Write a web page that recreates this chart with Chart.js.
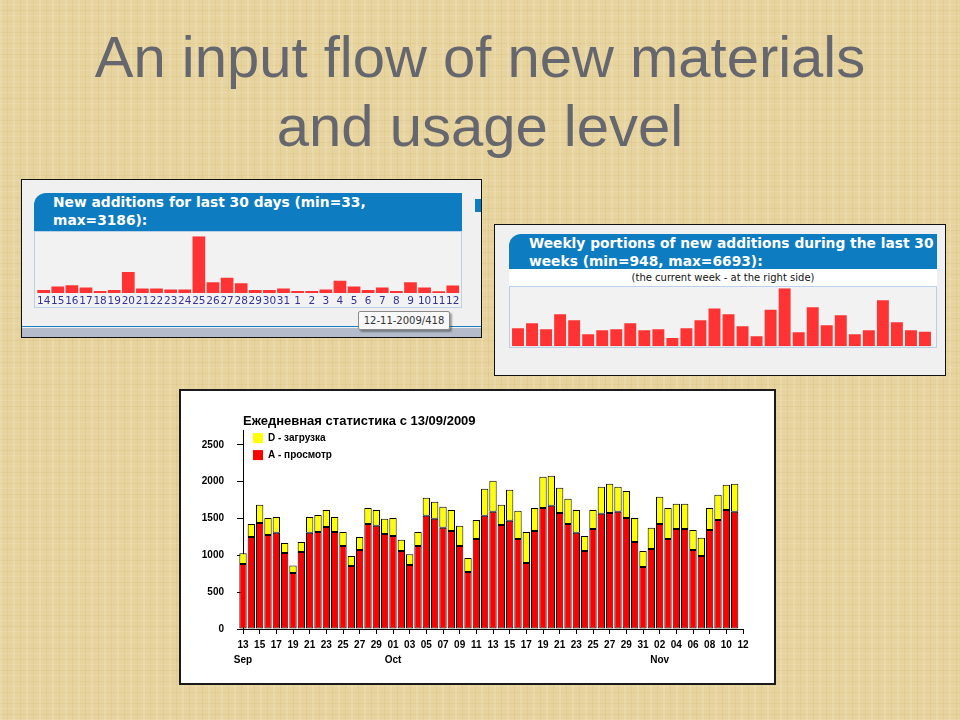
<!DOCTYPE html>
<html>
<head>
<meta charset="utf-8">
<script src="https://cdn.jsdelivr.net/npm/chart.js@4.4.1/dist/chart.umd.min.js"></script>
<style>
  html, body { margin: 0; padding: 0; }
  #slide {
    position: relative; width: 960px; height: 720px; overflow: hidden;
    background-color: #e7d39d;
    background-image:
      repeating-linear-gradient(90deg, rgba(255,255,255,0.14) 0 2px, transparent 2px 7px, rgba(150,110,40,0.07) 7px 8px, transparent 8px 13px),
      repeating-linear-gradient(0deg, rgba(255,255,255,0.10) 0 1px, transparent 1px 5px, rgba(150,110,40,0.06) 5px 6px, transparent 6px 11px);
    font-family: "Liberation Sans", Arial, sans-serif;
  }
  #title {
    position: absolute; left: 0; top: 22px; width: 960px; text-align: center;
    font-size: 58px; line-height: 69px; color: #66666e;
  }
  .panel { position: absolute; box-sizing: border-box; border: 1px solid #111; background: #f0f0f0; }
  .head {
    position: absolute; box-sizing: border-box; background: #0e7cc0; color: #fff;
    font: bold 13.8px "DejaVu Sans", Verdana, sans-serif; line-height: 17.5px;
    border-top-left-radius: 12px;
  }
  .plot { position: absolute; box-sizing: border-box; border: 1px solid #b9d0e8; background: #f2f2f2; }
  .plot canvas { position: absolute; left: 0; top: 0; }
  #tip {
    position: absolute; left: 358px; top: 311px; width: 92px; height: 19px; box-sizing: border-box;
    background: #f8f8f8; border: 1px solid #8a8a8a; border-radius: 2px;
    box-shadow: 2px 2px 2px rgba(0,0,0,0.35);
    font: 10px "DejaVu Sans", sans-serif; color: #333; text-align: center; line-height: 17px;
  }
</style>
</head>
<body>
<div id="slide">
  <div id="title">An input flow of new materials<br>and usage level</div>

  <div class="panel" style="left:21px; top:179px; width:461px; height:159px;">
    <div style="position:absolute; left:453px; top:19px; width:6px; height:13px; background:#0e7cc0;"></div>
    <div style="position:absolute; left:0; top:146px; width:459px; height:1px; background:#1a7fc4;"></div>
    <div style="position:absolute; left:0; top:148px; width:459px; height:9px; background:#b4bccb;"></div>
  </div>
  <div class="head" style="left:34px; top:193px; width:428px; height:38px; padding:1px 0 0 19px;">
    New additions for last 30 days (min=33,<br>max=3186):
  </div>
  <div class="plot" style="left:34px; top:231px; width:428px; height:77px;">
    <canvas id="c1" width="426" height="75"></canvas>
  </div>
  <div id="tip">12-11-2009/418</div>

  <div class="panel" style="left:494px; top:224px; width:452px; height:152px;"></div>
  <div class="head" style="left:509px; top:234px; width:428px; height:35px; padding:1px 0 0 20px;">
    Weekly portions of new additions during the last 30<br>weeks (min=948, max=6693):
  </div>
  <div style="position:absolute; left:509px; top:269px; width:428px; height:17px; background:#fff;
              font:10px 'DejaVu Sans', sans-serif; text-align:center; line-height:17px; color:#111;">
    (the current week - at the right side)
  </div>
  <div class="plot" style="left:509px; top:286px; width:428px; height:62px;">
    <canvas id="c2" width="426" height="60"></canvas>
  </div>

  <div style="position:absolute; left:179px; top:389px; width:597px; height:296px; box-sizing:border-box;
              border:2px solid #1a1a1a; background:#fff;">
    <canvas id="c3" width="593" height="292"></canvas>
  </div>
</div>

<script>
// --- new additions, last 30 days
const days30 = ['14','15','16','17','18','19','20','21','22','23','24','25','26','27','28','29','30','31',
                '1','2','3','4','5','6','7','8','9','10','11','12'];
const additions = [172, 363, 439, 305, 115, 172, 1183, 248, 248, 191, 191, 3186, 611, 859, 553,
                   172, 172, 248, 115, 115, 191, 687, 363, 172, 305, 115, 611, 305, 95, 418];

// --- weekly portions, last 30 weeks
const weeks = Array.from({length: 30}, (_, i) => 'w' + (i + 1));
const weekly = [2080, 2650, 1960, 3690, 3000, 1390, 1850, 1960, 2650, 1850, 1960, 948, 2080, 3000, 4350,
                3690, 2310, 1150, 4230, 6693, 1620, 4500, 2420, 3580, 1390, 1850, 5310, 2770, 1850, 1690];

// --- daily statistics since 13/09/2009 (last label 12 Nov has no bar)
const days = ['13','14','15','16','17','18','19','20','21','22','23','24','25','26','27','28','29','30',
              '01','02','03','04','05','06','07','08','09','10','11','12','13','14','15','16','17','18',
              '19','20','21','22','23','24','25','26','27','28','29','30','31',
              '01','02','03','04','05','06','07','08','09','10','11','12'];
const monthNames = ['Sep', 'Oct', 'Nov'];
const monthStart = [0, 18, 50];
const yTicks = [0, 500, 1000, 1500, 2000, 2500];
const views = [883, 1250, 1440, 1277, 1305, 1033, 761, 1046, 1305, 1318, 1386, 1318, 1128, 856, 1074, 1427, 1400, 1291,
               1264, 1060, 870, 1128, 1536, 1495, 1373, 1332, 1128, 775, 1223, 1536, 1590, 1413, 1468, 1223, 897, 1332,
               1644, 1672, 1576, 1427, 1305, 1060, 1359, 1563, 1576, 1590, 1508, 1182, 843,
               1087, 1427, 1223, 1359, 1359, 1074, 992, 1345, 1481, 1617, 1590, null];
const downloads = [145, 177, 245, 231, 217, 136, 100, 136, 217, 231, 231, 204, 190, 136, 176, 217, 217, 204,
                   244, 150, 145, 190, 244, 231, 285, 285, 272, 190, 258, 367, 421, 272, 421, 381, 421, 312,
                   422, 407, 340, 340, 312, 204, 258, 367, 395, 340, 367, 326, 217,
                   286, 367, 421, 340, 340, 271, 245, 299, 340, 340, 381, null];

const red = '#ff3333';

new Chart(document.getElementById('c1'), {
    type: 'bar',
    data: {
        labels: days30,
        datasets: [{ data: additions, backgroundColor: red, barPercentage: 0.9, categoryPercentage: 1 }]
    },
    options: {
        responsive: false, animation: false,
        layout: { padding: { left: 1.6, right: 1, top: 4.3, bottom: 0 } },
        plugins: { legend: { display: false }, tooltip: { enabled: false } },
        scales: {
            x: {
                grid: { display: false, drawTicks: false }, border: { display: false },
                ticks: { autoSkip: false, maxRotation: 0, padding: 1.5, color: '#333399',
                         font: { family: 'DejaVu Sans', size: 10.5 } },
                afterFit: s => { s.height = 14; }
            },
            y: { display: false, min: 0, max: 3186 }
        }
    }
});

new Chart(document.getElementById('c2'), {
    type: 'bar',
    data: {
        labels: weeks,
        datasets: [{ data: weekly, backgroundColor: red, barPercentage: 0.85, categoryPercentage: 1 }]
    },
    options: {
        responsive: false, animation: false,
        layout: { padding: { left: 1, right: 4, top: 1.3, bottom: 0.7 } },
        plugins: { legend: { display: false }, tooltip: { enabled: false } },
        scales: {
            x: { display: false },
            y: { display: false, min: 0, max: 6693 }
        }
    }
});

// legend sits inside the plot, top-left corner
const legendInside = {
    id: 'legendInside',
    afterLayout(chart) {
        const lg = chart.legend, ca = chart.chartArea;
        const h = lg.bottom - lg.top, w = lg.right - lg.left;
        lg.top = ca.top - 4; lg.bottom = lg.top + h;
        lg.left = ca.left + 3; lg.right = lg.left + w;
    }
};

new Chart(document.getElementById('c3'), {
    type: 'bar',
    data: {
        labels: days,
        datasets: [
            { label: 'A - просмотр', data: views, backgroundColor: '#ff0000',
              borderColor: '#000', borderWidth: 1, borderSkipped: false, clip: false,
              barPercentage: 0.88, categoryPercentage: 1 },
            { label: 'D - загрузка', data: downloads, backgroundColor: '#ffff00',
              borderColor: '#000', borderWidth: 1, borderSkipped: false, clip: false,
              barPercentage: 0.88, categoryPercentage: 1 }
        ]
    },
    plugins: [legendInside],
    options: {
        responsive: false, animation: false,
        layout: { padding: { left: 0, right: 31, top: 23, bottom: 14 } },
        plugins: {
            tooltip: { enabled: false },
            title: {
                display: true, text: 'Ежедневная статистика с 13/09/2009', align: 'start', fullSize: false,
                color: '#000', font: { family: 'Liberation Sans', size: 13, weight: 'bold' },
                padding: { top: 0, bottom: 0.5 }
            },
            legend: {
                position: 'chartArea', align: 'start', reverse: true,
                labels: {
                    boxWidth: 10, boxHeight: 10, padding: 7, color: '#000',
                    font: { family: 'Liberation Sans', size: 10, weight: 'bold' },
                    generateLabels(chart) {
                        const items = Chart.defaults.plugins.legend.labels.generateLabels(chart);
                        items.forEach(it => { it.lineWidth = 0; it.strokeStyle = 'rgba(0,0,0,0)'; });
                        return items;
                    }
                }
            }
        },
        scales: {
            x: {
                stacked: true, offset: false,
                grid: { offset: false, drawOnChartArea: false, tickLength: 5, color: '#000' },
                border: { color: '#000' },
                ticks: {
                    autoSkip: false, maxRotation: 0, minRotation: 0, padding: 3.5, color: '#000',
                    font: { family: 'Liberation Sans', size: 10, weight: 'bold', lineHeight: 1.5 },
                    callback: (value, index) => {
                        if (index % 2) return null;
                        const m = monthStart.indexOf(index);
                        return m >= 0 ? [days[index], monthNames[m]] : days[index];
                    }
                },
                afterFit: s => { s.height = 40; }
            },
            y: {
                stacked: true, min: 0, max: 2700,
                grid: { drawOnChartArea: false, tickLength: 6, color: '#000' },
                border: { color: '#000' },
                ticks: {
                    autoSkip: false, padding: 13, color: '#000',
                    font: { family: 'Liberation Sans', size: 10, weight: 'bold' },
                    callback: v => String(v)
                },
                afterBuildTicks: s => { s.ticks = yTicks.map(v => ({ value: v })); },
                afterFit: s => { s.width = 62; }
            }
        }
    }
});
</script>
</body>
</html>
